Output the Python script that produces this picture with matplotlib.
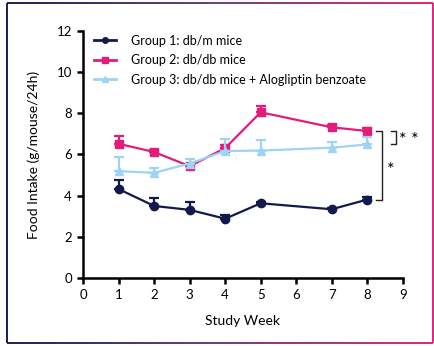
import numpy as np
import matplotlib
matplotlib.use('Agg')
import matplotlib.pyplot as plt
from matplotlib.patches import FancyBboxPatch
from matplotlib.collections import LineCollection
from matplotlib.colors import LinearSegmentedColormap
from matplotlib.lines import Line2D

plt.rcParams['font.family'] = ['Lato', 'DejaVu Sans']

# weekly food intake, mean and upper SEM
weeks = [1, 2, 3, 4, 5, 7, 8]
g1_mean = [4.32, 3.50, 3.31, 2.88, 3.63, 3.34, 3.81]
g1_err = [0.43, 0.37, 0.40, 0.20, 0.06, 0.06, 0.14]
g2_mean = [6.52, 6.12, 5.43, 6.31, 8.05, 7.32, 7.14]
g2_err = [0.39, 0.08, 0.10, 0.15, 0.32, 0.12, 0.15]
g3_mean = [5.19, 5.11, 5.56, 6.17, 6.19, 6.33, 6.49]
g3_err = [0.69, 0.22, 0.22, 0.56, 0.52, 0.26, 0.38]

labels = ['Group 1: db/m mice', 'Group 2: db/db mice',
          'Group 3: db/db mice + Alogliptin benzoate']
colors = ['#121a4b', '#e31c79', '#9dd3f5']
markers = ['o', 's', '^']

fig = plt.figure(figsize=(4.35, 3.46), dpi=100)
ax = fig.add_axes([0.191, 0.1965, 0.735, 0.714])

series = [(g1_mean, g1_err), (g2_mean, g2_err), (g3_mean, g3_err)]
# draw light blue first so the pink sits on top where they cross
for i in [0, 2, 1]:
    m, e = series[i]
    ax.errorbar(weeks, m, yerr=[np.zeros(len(e)), e], color=colors[i],
                marker=markers[i], markersize=6, lw=1.6, elinewidth=1.6,
                capsize=3.5, capthick=1.6, zorder=3 + i)

handles = [Line2D([], [], color=colors[i], marker=markers[i], markersize=4,
                  lw=2.0, label=labels[i]) for i in range(3)]

ax.set_xlim(0, 9)
ax.set_ylim(0, 12)
ax.set_xticks(range(0, 10))
ax.set_yticks(range(0, 13, 2))
for s in ['top', 'right']:
    ax.spines[s].set_visible(False)
for s in ['left', 'bottom']:
    ax.spines[s].set_linewidth(1.8)
ax.tick_params(width=1.8, length=4, labelsize=9.5, pad=4)
ax.set_xlabel('Study Week', fontsize=10, labelpad=10)
ax.set_ylabel('Food Intake (g/mouse/24h)', fontsize=10, labelpad=12)

ax.legend(handles=handles, loc='upper left', bbox_to_anchor=(0.0, 1.03),
          frameon=False, fontsize=9, handlelength=1.7, handletextpad=1.2,
          labelspacing=0.6)

# significance brackets at week 8
kw = dict(color='#222222', lw=1.0, clip_on=False)
ax.plot([8.25, 8.42, 8.42, 8.25], [7.15, 7.15, 3.77, 3.77], **kw)
ax.plot([8.67, 8.80, 8.80, 8.67], [7.15, 7.15, 6.50, 6.50], **kw)
ax.text(8.67, 5.25, '*', ha='center', va='center', fontsize=13, clip_on=False)
ax.text(9.16, 6.72, '* *', ha='center', va='center', fontsize=13, clip_on=False)

# rounded frame with a navy-to-pink gradient stroke
frame = FancyBboxPatch((7.5, 3.5), 426, 340, boxstyle='round,pad=0,rounding_size=30')
verts = frame.get_path().interpolated(60).vertices
segs = np.stack([verts[:-1], verts[1:]], axis=1)
xs = (segs[:, 0, 0] + segs[:, 1, 0]) / 2
cmap = LinearSegmentedColormap.from_list('frame', ['#1a1f55', '#6b3f7d', '#e0257f'])
lc = LineCollection(segs / np.array([435, 346]), colors=cmap((xs - 7) / 427),
                    linewidths=1.4, transform=fig.transFigure)
fig.add_artist(lc)

fig.savefig('out.png', dpi=100)
